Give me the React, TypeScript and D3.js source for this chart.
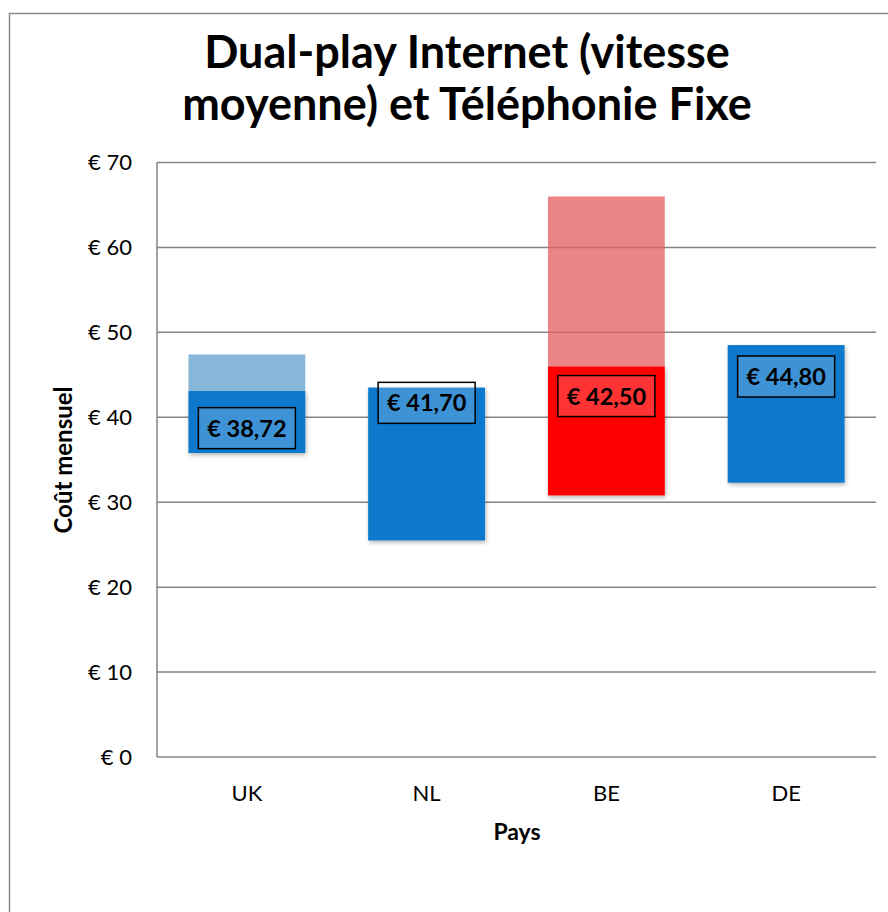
import React from 'react';
import * as d3 from 'd3';

// chart values
const countries: string[] = ['UK', 'NL', 'BE', 'DE'];
const barStart: number[] = [35.8, 25.5, 30.8, 32.3];
const barMain: number[] = [7.3, 18.0, 15.2, 16.2];
const barExtra: number[] = [4.3, 0, 20.0, 0];
const priceLabels: number[] = [38.72, 41.7, 42.5, 44.8];
const yTicks: number[] = [0, 10, 20, 30, 40, 50, 60, 70];
const barColors: string[] = ['#0778cc', '#0778cc', '#ff0505', '#0778cc'];
const extraColors: string[] = ['#86b6da', '#86b6da', '#e55f5f', '#86b6da'];

const FONT = 'Lato, "Open Sans", sans-serif';

const App = () => {
  const width = 888;
  const height = 912;
  const margin = { top: 162.5, right: 12, bottom: 155, left: 157 };

  const x = d3
    .scaleBand<string>()
    .domain(countries)
    .range([margin.left, width - margin.right])
    .paddingInner(0.35)
    .paddingOuter(0.175);

  const y = d3
    .scaleLinear()
    .domain([0, 70])
    .range([height - margin.bottom, margin.top]);

  const fmt = (v: number) => '€ ' + v.toFixed(2).replace('.', ',');

  return (
    <svg
      width={width}
      height={height}
      style={{ position: 'absolute', left: 0, top: 0, background: '#fff' }}
    >
      <defs>
        <filter id="shadow" x="-10%" y="-10%" width="130%" height="130%">
          <feDropShadow dx="1" dy="2" stdDeviation="2" floodColor="#000" floodOpacity="0.3" />
        </filter>
      </defs>

      {/* chart frame */}
      <rect x={9.5} y={13.5} width={900} height={920} fill="none" stroke="#8a8a8a" strokeWidth={1.5} />

      {/* title */}
      <text textAnchor="middle" fontFamily={FONT} fontWeight="bold" fontSize={45} fill="#000">
        <tspan x={467} y={68}>Dual-play Internet (vitesse</tspan>
        <tspan x={467} y={120}>moyenne) et Téléphonie Fixe</tspan>
      </text>

      {/* gridlines */}
      {yTicks.map((t) => (
        <line
          key={t}
          x1={margin.left}
          x2={width - margin.right}
          y1={y(t)}
          y2={y(t)}
          stroke="#858585"
          strokeWidth={1.5}
        />
      ))}
      <line
        x1={margin.left}
        x2={margin.left}
        y1={y(70)}
        y2={y(0)}
        stroke="#858585"
        strokeWidth={1.5}
      />

      {/* y tick labels */}
      {yTicks.map((t) => (
        <text
          key={'l' + t}
          x={132}
          y={y(t)}
          dy="0.35em"
          textAnchor="end"
          fontFamily={FONT}
          fontSize={22}
          fill="#000"
        >
          {'€ ' + t}
        </text>
      ))}

      {/* main bars, with shadow */}
      {countries.map((c, i) => {
        const lo = barStart[i];
        const mid = lo + barMain[i];
        return (
          <rect
            key={c}
            x={x(c) as number}
            y={y(mid)}
            width={x.bandwidth()}
            height={y(lo) - y(mid)}
            fill={barColors[i]}
            filter="url(#shadow)"
          />
        );
      })}

      {/* upper range, lighter */}
      {countries.map((c, i) => {
        if (barExtra[i] <= 0) return null;
        const mid = barStart[i] + barMain[i];
        const hi = mid + barExtra[i];
        return (
          <rect
            key={'e' + c}
            x={x(c) as number}
            y={y(hi)}
            width={x.bandwidth()}
            height={y(mid) - y(hi)}
            fill={extraColors[i]}
            fillOpacity={i === 2 ? 0.76 : 1}
          />
        );
      })}

      {/* price labels */}
      {countries.map((c, i) => {
        const cx = (x(c) as number) + x.bandwidth() / 2;
        const cy = y(priceLabels[i]);
        return (
          <g key={'p' + c}>
            <rect
              x={cx - 48.5}
              y={cy - 20.5}
              width={97}
              height={41}
              fill="#fff"
              fillOpacity={0.2}
              stroke="#000"
              strokeWidth={1.5}
            />
            <text
              x={cx}
              y={cy}
              dy="0.36em"
              textAnchor="middle"
              fontFamily={FONT}
              fontWeight="bold"
              fontSize={23.5}
              fill="#000"
            >
              {fmt(priceLabels[i])}
            </text>
          </g>
        );
      })}

      {/* category labels */}
      {countries.map((c) => (
        <text
          key={'c' + c}
          x={(x(c) as number) + x.bandwidth() / 2}
          y={801}
          textAnchor="middle"
          fontFamily={FONT}
          fontSize={22}
          fill="#000"
        >
          {c}
        </text>
      ))}

      {/* axis titles */}
      <text x={517} y={840} textAnchor="middle" fontFamily={FONT} fontWeight="bold" fontSize={23} fill="#000">
        Pays
      </text>
      <text
        transform="translate(72,460) rotate(-90)"
        textAnchor="middle"
        fontFamily={FONT}
        fontWeight="bold"
        fontSize={24}
        fill="#000"
      >
        Coût mensuel
      </text>
    </svg>
  );
};

export default App;
